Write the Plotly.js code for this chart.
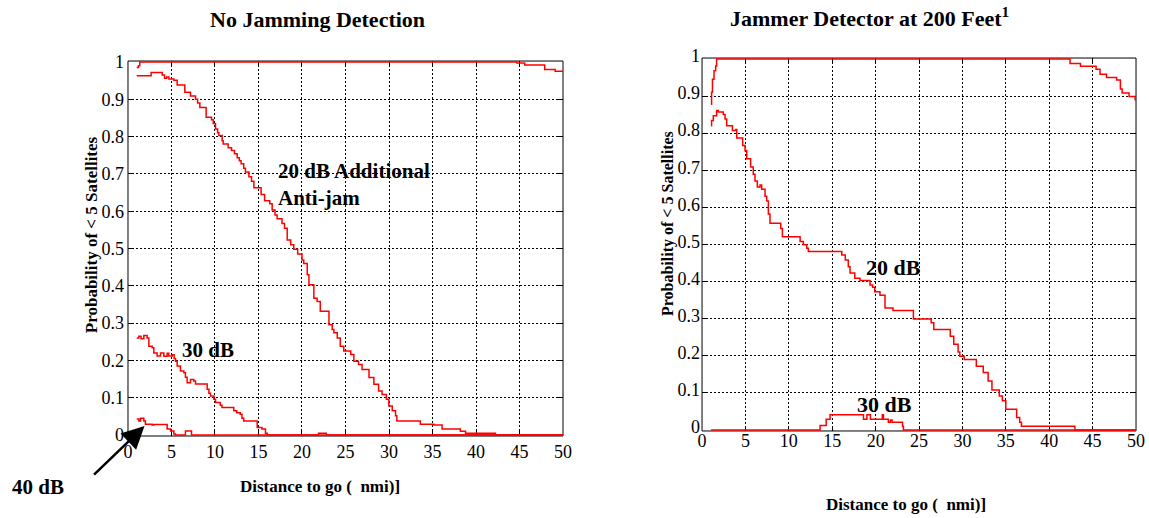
<!DOCTYPE html>
<html>
<head>
<meta charset="utf-8">
<script src="https://cdn.plot.ly/plotly-3.0.1.min.js"></script>
<style>html,body{margin:0;padding:0;background:#fff;}#chart{width:1149px;height:518px;}</style>
</head>
<body>
<div id="chart"></div>
<script>
// ---------- Data ----------
const xTicks = [0, 5, 10, 15, 20, 25, 30, 35, 40, 45, 50];
const yTicks = [0, 0.1, 0.2, 0.3, 0.4, 0.5, 0.6, 0.7, 0.8, 0.9, 1];

// Left panel: No Jamming Detection
const noDetTopX = [1.0, 1.2, 1.35, 44.7, 45.6, 47.9, 49.1, 50];
const noDetTopY = [0.985, 0.99, 1.0, 0.997, 0.992, 0.98, 0.975, 0.975];

const noDet20X = [1.0, 2.66, 3.93, 4.2, 4.45, 4.7, 5.27, 5.65, 6.53, 7.18, 7.76, 8.0, 8.26, 8.98, 9.6, 9.8, 10.06, 10.3, 10.44, 10.82, 10.94, 11.51, 11.9, 12.24, 12.55, 12.8, 13.0, 13.3, 13.5, 13.9, 14.2, 14.47, 15.3, 15.7, 16.3, 16.57, 16.9, 17.14, 17.7, 17.99, 18.3, 18.7, 19.05, 19.5, 20.0, 20.2, 20.6, 20.8, 21.36, 21.74, 22.1, 23.1, 23.47, 23.66, 24.05, 24.4, 24.8, 25.6, 25.96, 26.5, 26.9, 27.7, 28.26, 28.8, 29.2, 29.7, 29.98, 30.37, 30.75, 30.9, 33.6, 35.15, 36.1, 38.2, 38.8, 42.24, 50];
const noDet20Y = [0.963, 0.972, 0.965, 0.956, 0.96, 0.954, 0.951, 0.938, 0.919, 0.909, 0.9, 0.89, 0.878, 0.852, 0.845, 0.835, 0.82, 0.81, 0.803, 0.789, 0.78, 0.77, 0.763, 0.754, 0.743, 0.735, 0.727, 0.715, 0.705, 0.692, 0.68, 0.663, 0.645, 0.628, 0.62, 0.603, 0.59, 0.58, 0.567, 0.554, 0.523, 0.51, 0.498, 0.485, 0.469, 0.46, 0.43, 0.403, 0.367, 0.358, 0.332, 0.296, 0.283, 0.274, 0.26, 0.238, 0.225, 0.216, 0.198, 0.189, 0.176, 0.154, 0.136, 0.118, 0.109, 0.096, 0.078, 0.065, 0.052, 0.038, 0.029, 0.027, 0.016, 0.01, 0.005, 0, 0];

const noDet30X = [1.0, 1.25, 1.5, 1.82, 2.2, 2.4, 2.78, 2.97, 3.35, 3.74, 4.12, 4.5, 4.69, 5.08, 5.3, 5.46, 5.65, 6.03, 6.42, 6.6, 6.8, 7.18, 7.56, 7.76, 9.1, 9.3, 9.48, 9.87, 10.06, 10.6, 10.8, 12.16, 12.5, 12.9, 13.1, 13.3, 14.85, 15.4, 15.8, 16.0, 50];
const noDet30Y = [0.26, 0.265, 0.258, 0.267, 0.26, 0.238, 0.234, 0.22, 0.212, 0.22, 0.211, 0.219, 0.212, 0.215, 0.205, 0.198, 0.185, 0.172, 0.167, 0.155, 0.14, 0.149, 0.145, 0.137, 0.123, 0.112, 0.105, 0.096, 0.087, 0.08, 0.074, 0.065, 0.06, 0.056, 0.045, 0.038, 0.02, 0.016, 0.005, 0, 0];

const noDet40X = [1.0, 1.25, 1.44, 1.82, 2.0, 2.78, 2.97, 4.5, 4.9, 5.27, 5.46, 6.6, 7.3, 21.9, 22.8, 50];
const noDet40Y = [0.043, 0.038, 0.045, 0.038, 0.029, 0.027, 0.028, 0.016, 0.011, 0.003, 0, 0.011, 0, 0.005, 0, 0];

// Right panel: Jammer Detector at 200 Feet
const detTopX = [1.04, 1.1, 1.2, 1.38, 1.57, 1.68, 42.4, 43.6, 45.4, 45.85, 46.6, 47.77, 48.2, 48.4, 49.2, 49.9, 50];
const detTopY = [0.878, 0.91, 0.945, 0.968, 0.981, 1.0, 0.988, 0.98, 0.972, 0.959, 0.95, 0.943, 0.919, 0.908, 0.899, 0.89, 0.89];

const det20X = [1.04, 1.1, 1.3, 1.68, 1.87, 2.45, 2.65, 2.84, 3.5, 3.9, 4.0, 4.68, 4.95, 5.15, 5.6, 5.9, 6.1, 6.37, 6.68, 6.87, 7.26, 7.45, 7.64, 7.83, 9.07, 9.26, 11.3, 11.67, 12.06, 12.25, 16.1, 16.5, 16.85, 17.05, 17.6, 18.2, 19.35, 19.65, 19.9, 20.5, 21.08, 22.0, 24.35, 26.4, 26.7, 28.6, 29.0, 29.5, 29.7, 30.2, 31.6, 32.4, 32.96, 33.4, 34.25, 34.6, 35.0, 36.25, 36.6, 36.8, 42.96, 50];
const det20Y = [0.82, 0.834, 0.847, 0.861, 0.857, 0.85, 0.838, 0.82, 0.807, 0.81, 0.787, 0.767, 0.753, 0.731, 0.709, 0.689, 0.671, 0.655, 0.66, 0.649, 0.63, 0.617, 0.582, 0.557, 0.543, 0.521, 0.508, 0.499, 0.49, 0.481, 0.472, 0.458, 0.44, 0.423, 0.409, 0.403, 0.391, 0.385, 0.373, 0.363, 0.329, 0.322, 0.299, 0.289, 0.271, 0.253, 0.231, 0.21, 0.199, 0.19, 0.172, 0.155, 0.132, 0.108, 0.092, 0.079, 0.056, 0.034, 0.021, 0.01, 0, 0];

const det30X = [1.04, 13.6, 14.3, 14.75, 18.6, 19.0, 19.4, 20.77, 20.9, 21.46, 21.7, 21.9, 23.1, 23.2, 50];
const det30Y = [0, 0.012, 0.029, 0.041, 0.029, 0.041, 0.029, 0.041, 0.029, 0.021, 0.027, 0.021, 0.01, 0, 0];

// ---------- Styling ----------
const serif = '"Liberation Serif", "Times New Roman", serif';
const red = '#ff0000';

function stepTrace(x, y, xa, ya) {
  return {x: x, y: y, xaxis: xa, yaxis: ya, type: 'scatter', mode: 'lines',
    line: {color: red, width: 1.5, shape: 'hv'}, cliponaxis: false,
    hoverinfo: 'skip', showlegend: false};
}

const data = [
  stepTrace(noDetTopX, noDetTopY, 'x', 'y'),
  stepTrace(noDet20X, noDet20Y, 'x', 'y'),
  stepTrace(noDet30X, noDet30Y, 'x', 'y'),
  stepTrace(noDet40X, noDet40Y, 'x', 'y'),
  stepTrace(detTopX, detTopY, 'x2', 'y2'),
  stepTrace(det20X, det20Y, 'x2', 'y2'),
  stepTrace(det30X, det30Y, 'x2', 'y2')
];

function axisBase(extra) {
  return Object.assign({
    showgrid: true, gridcolor: '#000', gridwidth: 1, griddash: '2px,2px',
    zeroline: false, showline: false,
    mirror: 'ticks', ticks: 'inside', ticklen: 5, tickcolor: '#000',
    tickfont: {family: serif, size: 18, color: '#000'},
    layer: 'below traces', fixedrange: true
  }, extra);
}

const bold = (size) => ({family: serif, size: size, color: '#000', weight: 'bold'});

// plot frames (drawn beneath the curves, like the original)
function frame(xr, yr) {
  return {type: 'rect', xref: xr + ' domain', yref: yr + ' domain', x0: 0, x1: 1, y0: 0, y1: 1,
    line: {color: '#000', width: 1}, fillcolor: 'rgba(0,0,0,0)', layer: 'below'};
}

const yRange = [-0.0025, 1.0025];

const layout = {
  width: 1149, height: 518,
  margin: {l: 0, r: 0, t: 0, b: 0},
  paper_bgcolor: '#fff', plot_bgcolor: '#fff',
  font: {family: serif},
  showlegend: false,
  xaxis: axisBase({domain: [0.1114, 0.49], anchor: 'y', range: [0, 50], tickvals: xTicks, ticklabelstandoff: 3}),
  yaxis: axisBase({domain: [0.1583, 0.8822], anchor: 'x', range: yRange, tickvals: yTicks, ticklabelstandoff: 3}),
  xaxis2: axisBase({domain: [0.611, 0.9887], anchor: 'y2', range: [0, 50], tickvals: xTicks, ticklabelstandoff: -3}),
  yaxis2: axisBase({domain: [0.168, 0.888], anchor: 'x2', range: yRange, tickvals: yTicks, ticklabelstandoff: 1, ticklabelshift: -3}),
  shapes: [frame('x', 'y'), frame('x2', 'y2')],
  annotations: [
    {text: '<b>No Jamming Detection</b>', xref: 'paper', yref: 'paper', x: 0.276, y: 0.963, xanchor: 'center', yanchor: 'middle', showarrow: false, font: bold(22)},
    {text: '<b>Jammer Detector at 200 Feet<sup>1</sup></b>', xref: 'paper', yref: 'paper', x: 0.757, y: 0.967, xanchor: 'center', yanchor: 'middle', showarrow: false, font: bold(22)},
    {text: '<b>Distance to go (  nmi)]</b>', xref: 'paper', yref: 'paper', x: 0.2785, y: 0.06, xanchor: 'center', yanchor: 'middle', showarrow: false, font: bold(17)},
    {text: '<b>Distance to go (  nmi)]</b>', xref: 'paper', yref: 'paper', x: 0.7885, y: 0.027, xanchor: 'center', yanchor: 'middle', showarrow: false, font: bold(17)},
    {text: '<b>Probability of < 5 Satellites</b>', xref: 'paper', yref: 'paper', x: 0.0792, y: 0.546, xanchor: 'center', yanchor: 'middle', textangle: -90, showarrow: false, font: bold(17)},
    {text: '<b>Probability of < 5 Satellites</b>', xref: 'paper', yref: 'paper', x: 0.5814, y: 0.5676, xanchor: 'center', yanchor: 'middle', textangle: -90, showarrow: false, font: bold(16)},
    {text: '<b>20 dB Additional<br>Anti-jam</b>', xref: 'x', yref: 'y', x: 17.0, y: 0.671, xanchor: 'left', yanchor: 'middle', align: 'left', showarrow: false, font: bold(21)},
    {text: '<b>30 dB</b>', xref: 'x', yref: 'y', x: 6.03, y: 0.229, xanchor: 'left', yanchor: 'middle', showarrow: false, font: bold(21)},
    {text: '<b>40 dB</b>', xref: 'paper', yref: 'paper', x: 10 / 1149, y: 0.06, xanchor: 'left', yanchor: 'middle', showarrow: false, font: bold(21)},
    {text: '', xref: 'x', yref: 'y', x: 1.9, y: 0.024, ax: -52, ay: 50, showarrow: true, arrowhead: 2, arrowsize: 1.8, arrowwidth: 2.5, arrowcolor: '#000'},
    {text: '<b>20 dB</b>', xref: 'x2', yref: 'y2', x: 18.66, y: 0.437, xanchor: 'left', yanchor: 'middle', showarrow: false, font: bold(22)},
    {text: '<b>30 dB</b>', xref: 'x2', yref: 'y2', x: 17.6, y: 0.07, xanchor: 'left', yanchor: 'middle', showarrow: false, font: bold(22)}
  ]
};

Plotly.newPlot('chart', data, layout, {staticPlot: true, displayModeBar: false});
</script>
</body>
</html>
